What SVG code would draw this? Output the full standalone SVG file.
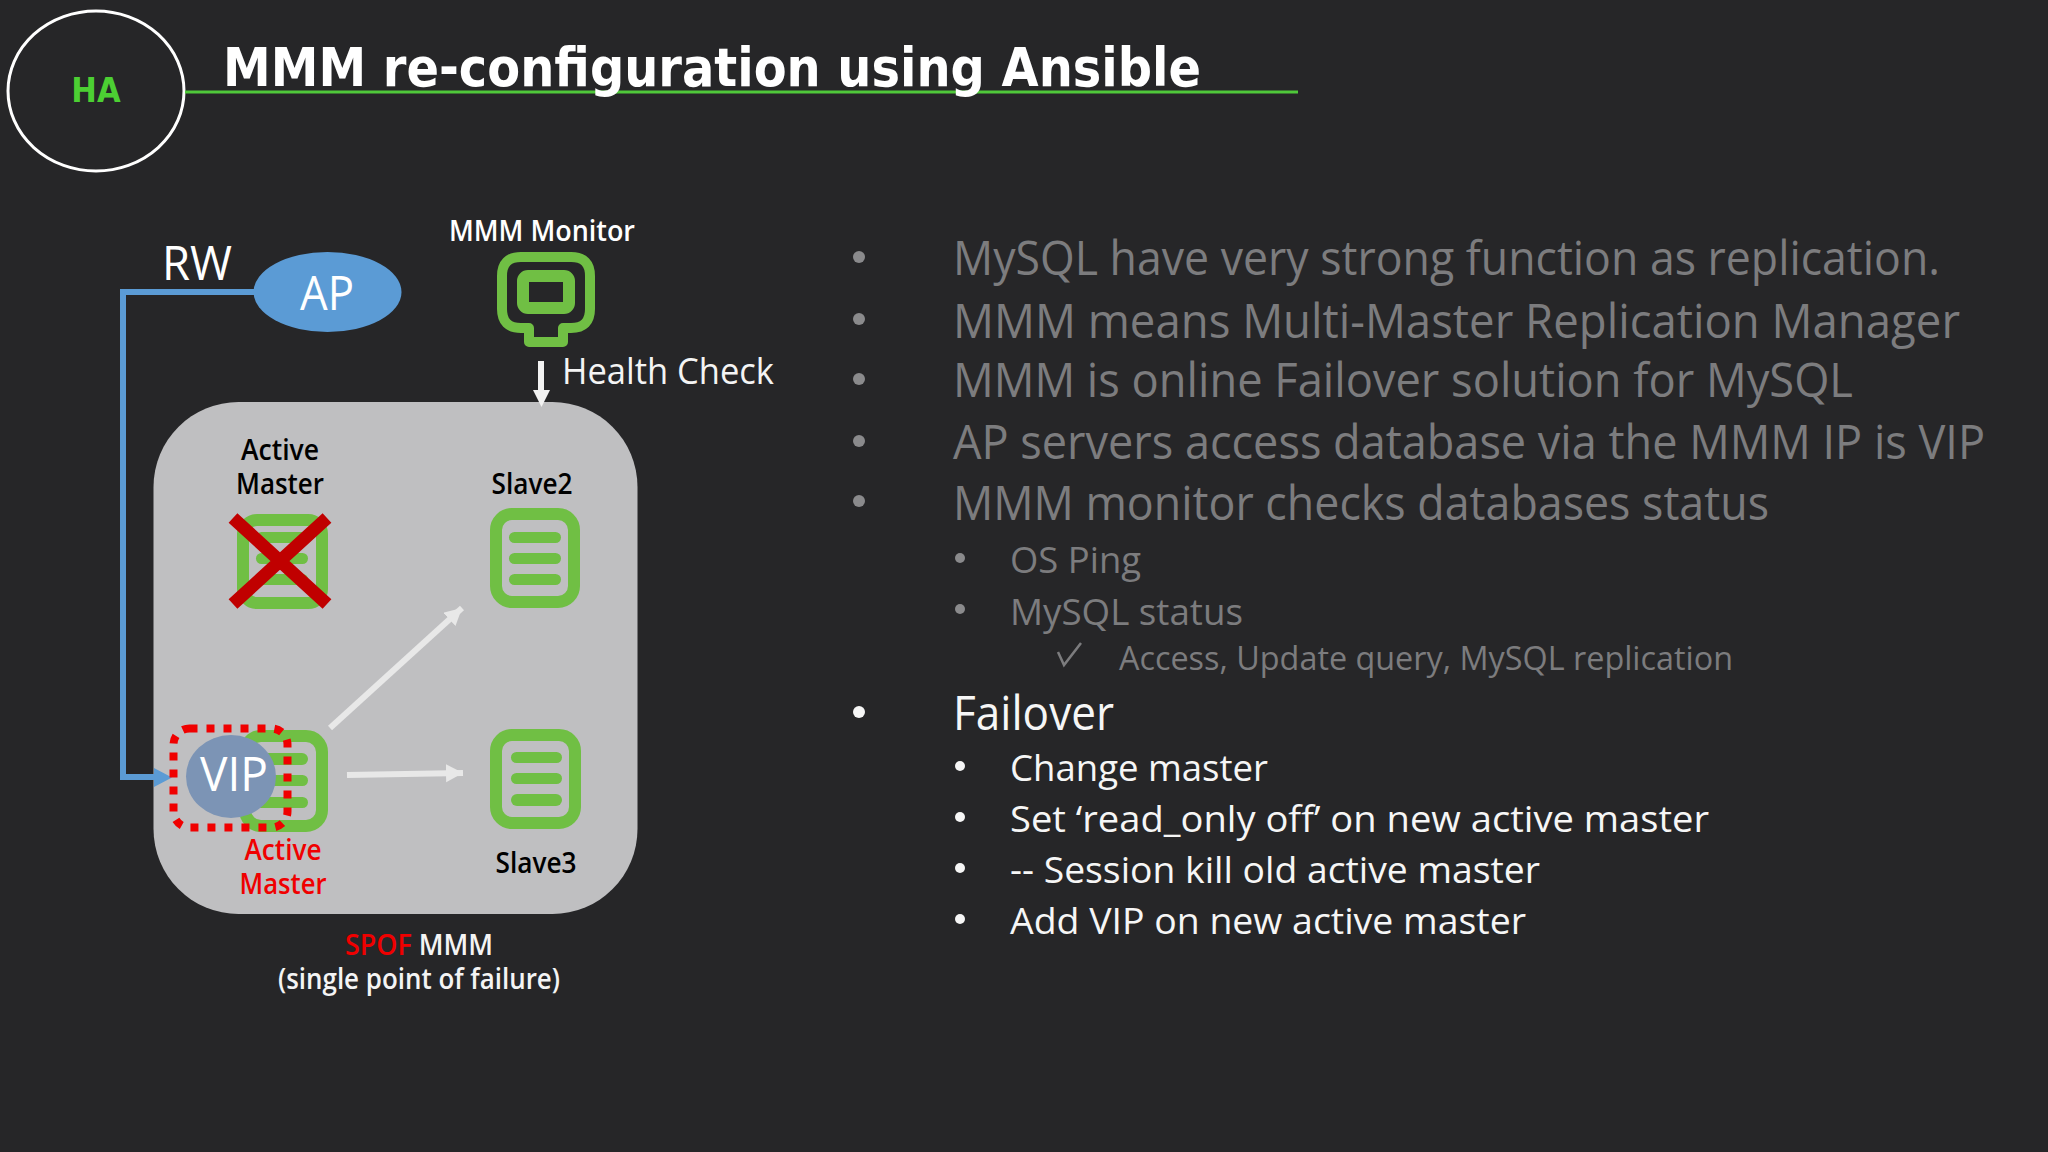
<svg xmlns="http://www.w3.org/2000/svg" width="2048" height="1152" viewBox="0 0 2048 1152">
<defs>
<style>
text{font-family:"Open Sans","Noto Sans","Liberation Sans",sans-serif}
.srv{fill:none;stroke:#70bf44;stroke-width:12}
.bar{fill:#70bf44}
.b1{font-size:47px;fill:#7c7c7e}
.b2{font-size:37px;fill:#7c7c7e}
.b3{font-size:33px;fill:#7c7c7e}
.w1{font-size:47px;fill:#f6f6f6}
.w2{font-size:37px;fill:#f6f6f6}
.dg{fill:#8a8a8c}
.dw{fill:#f6f6f6}
.lb{font-size:28px;font-weight:600;text-anchor:middle;fill:#000}
.lr{font-size:28px;font-weight:600;text-anchor:middle;fill:#f00000}
.lw{font-size:28px;font-weight:600;text-anchor:middle;fill:#f4f4f4}
.hd{font-family:"DejaVu Sans Condensed","DejaVu Sans",sans-serif;font-weight:700}
</style>
<marker id="ah" markerUnits="userSpaceOnUse" markerWidth="20" markerHeight="20" refX="17" refY="9" orient="auto"><path d="M0 0L17 9L0 18Z" fill="#e8e8e8"/></marker>
</defs>
<rect width="2048" height="1152" fill="#262628"/>
<g id="header">
<ellipse cx="96" cy="91" rx="88" ry="80" fill="none" stroke="#fff" stroke-width="3"/>
<text class="hd" x="96" y="102" font-size="34" text-anchor="middle" fill="#4ccf33">HA</text>
<line x1="185" y1="92" x2="1298" y2="92" stroke="#4fc83a" stroke-width="3"/>
<text class="hd" x="223" y="86" font-size="53" fill="#fff" textLength="978" lengthAdjust="spacingAndGlyphs">MMM re-configuration using Ansible</text>
</g>
<g id="container"><rect x="153.500" y="402" width="484" height="512" rx="85" ry="85" fill="#bfbfc1"/></g>
<g id="connectors">
<path d="M254 292H123V777H156" fill="none" stroke="#5b9bd5" stroke-width="6"/>
<path d="M154 768L172 777.500L154 787Z" fill="#5b9bd5"/>
<path d="M541 361V392" stroke="#f2f2f2" stroke-width="6"/>
<path d="M533 390H550L541.500 407Z" fill="#f2f2f2"/>
<line x1="330" y1="728" x2="462" y2="608" stroke="#e8e8e8" stroke-width="6" marker-end="url(#ah)"/>
<line x1="347" y1="775" x2="463" y2="773" stroke="#e8e8e8" stroke-width="6" marker-end="url(#ah)"/>
</g>
<g id="ap">
<ellipse cx="327.500" cy="292" rx="74" ry="40" fill="#5b9bd5"/>
<text x="327" y="310" font-size="47" text-anchor="middle" fill="#fff" textLength="54" lengthAdjust="spacingAndGlyphs">AP</text>
<text x="197" y="280" font-size="47" text-anchor="middle" fill="#fff" textLength="70" lengthAdjust="spacingAndGlyphs">RW</text>
</g>
<g id="monitor">
<text x="542" y="241" font-size="28" font-weight="600" text-anchor="middle" fill="#fff" textLength="186" lengthAdjust="spacingAndGlyphs">MMM Monitor</text>
<path d="M521 257H571Q590 257 590 276V309Q590 328 571 328H563V342H529V328H521Q502 328 502 309V276Q502 257 521 257Z" fill="none" stroke="#70bf44" stroke-width="10" stroke-linejoin="round"/>
<rect x="523" y="276" width="46" height="32" rx="5" fill="none" stroke="#70bf44" stroke-width="12"/>
<text x="562" y="384" font-size="37" fill="#f4f4f4" textLength="212" lengthAdjust="spacingAndGlyphs">Health Check</text>
</g>
<g id="failed-master">
<text class="lb" x="280" y="460" textLength="78" lengthAdjust="spacingAndGlyphs">Active</text>
<text class="lb" x="280" y="494" textLength="88" lengthAdjust="spacingAndGlyphs">Master</text>
<rect class="srv" x="243" y="520" width="79" height="83" rx="14"/>
<rect class="bar" x="256" y="532" width="52" height="11" rx="5.500"/>
<rect class="bar" x="256" y="553" width="52" height="11" rx="5.500"/>
<rect class="bar" x="256" y="574" width="52" height="11" rx="5.500"/>
<path d="M233 518L327 604M327 518L233 604" stroke="#c00000" stroke-width="13" fill="none"/>
</g>
<g id="slave2">
<text class="lb" x="532" y="494" textLength="81" lengthAdjust="spacingAndGlyphs">Slave2</text>
<rect class="srv" x="496" y="514" width="78" height="88" rx="16"/>
<rect class="bar" x="509" y="532" width="52" height="11" rx="5.500"/>
<rect class="bar" x="509" y="553" width="52" height="11" rx="5.500"/>
<rect class="bar" x="509" y="574" width="52" height="11" rx="5.500"/>
</g>
<g id="active-master">
<rect class="srv" x="245" y="736" width="77" height="90" rx="16"/>
<rect class="bar" x="256" y="753" width="52" height="12" rx="6"/>
<rect class="bar" x="256" y="775" width="52" height="11" rx="5.500"/>
<rect class="bar" x="256" y="797" width="52" height="11" rx="5.500"/>
<ellipse cx="231" cy="776.500" rx="45" ry="41.500" fill="#7c94b5"/>
<text x="234" y="791" font-size="47" text-anchor="middle" fill="#fff" textLength="68" lengthAdjust="spacingAndGlyphs">VIP</text>
<rect x="173.500" y="728.500" width="114" height="99" rx="16" fill="none" stroke="#f00000" stroke-width="8" stroke-dasharray="8 9"/>
<text class="lr" x="283" y="860" textLength="77" lengthAdjust="spacingAndGlyphs">Active</text>
<text class="lr" x="283" y="894" textLength="87" lengthAdjust="spacingAndGlyphs">Master</text>
</g>
<g id="slave3">
<rect class="srv" x="496" y="735" width="79" height="88" rx="16"/>
<rect class="bar" x="511" y="752" width="51" height="11" rx="5.500"/>
<rect class="bar" x="511" y="773" width="51" height="11" rx="5.500"/>
<rect class="bar" x="511" y="794" width="51" height="12" rx="6"/>
<text class="lb" x="536" y="873" textLength="81" lengthAdjust="spacingAndGlyphs">Slave3</text>
</g>
<g id="spof">
<text x="419" y="955" class="lw" textLength="148" lengthAdjust="spacingAndGlyphs"><tspan fill="#f00000">SPOF</tspan> MMM</text>
<text x="419" y="989" class="lw" textLength="282" lengthAdjust="spacingAndGlyphs">(single point of failure)</text>
</g>
<g id="bullets">
<circle class="dg" cx="859" cy="257" r="6"/><text class="b1" x="953" y="275" textLength="987" lengthAdjust="spacingAndGlyphs">MySQL have very strong function as replication.</text>
<circle class="dg" cx="859" cy="319" r="6"/><text class="b1" x="953" y="338" textLength="1007" lengthAdjust="spacingAndGlyphs">MMM means Multi-Master Replication Manager</text>
<circle class="dg" cx="859" cy="379" r="6"/><text class="b1" x="953" y="397" textLength="900" lengthAdjust="spacingAndGlyphs">MMM is online Failover solution for MySQL</text>
<circle class="dg" cx="859" cy="441" r="6"/><text class="b1" x="953" y="459" textLength="1032" lengthAdjust="spacingAndGlyphs">AP servers access database via the MMM IP is VIP</text>
<circle class="dg" cx="859" cy="501" r="6"/><text class="b1" x="953" y="520" textLength="816" lengthAdjust="spacingAndGlyphs">MMM monitor checks databases status</text>
<circle class="dg" cx="960" cy="558" r="5"/><text class="b2" x="1010" y="573" textLength="131" lengthAdjust="spacingAndGlyphs">OS Ping</text>
<circle class="dg" cx="960" cy="609" r="5"/><text class="b2" x="1010" y="625" textLength="233" lengthAdjust="spacingAndGlyphs">MySQL status</text>
<path d="M1058 652L1064 665L1081 643" fill="none" stroke="#7c7c7e" stroke-width="2.500"/><text class="b3" x="1119" y="670" textLength="614" lengthAdjust="spacingAndGlyphs">Access, Update query, MySQL replication</text>
<circle class="dw" cx="859" cy="712" r="6"/><text class="w1" x="953" y="730" textLength="161" lengthAdjust="spacingAndGlyphs">Failover</text>
<circle class="dw" cx="960" cy="766" r="5"/><text class="w2" x="1010" y="781" textLength="258" lengthAdjust="spacingAndGlyphs">Change master</text>
<circle class="dw" cx="960" cy="817" r="5"/><text class="w2" x="1010" y="832" textLength="699" lengthAdjust="spacingAndGlyphs">Set ‘read_only off’ on new active master</text>
<circle class="dw" cx="960" cy="868" r="5"/><text class="w2" x="1010" y="883" textLength="530" lengthAdjust="spacingAndGlyphs">-- Session kill old active master</text>
<circle class="dw" cx="960" cy="919" r="5"/><text class="w2" x="1010" y="934" textLength="516" lengthAdjust="spacingAndGlyphs">Add VIP on new active master</text>
</g>
</svg>
